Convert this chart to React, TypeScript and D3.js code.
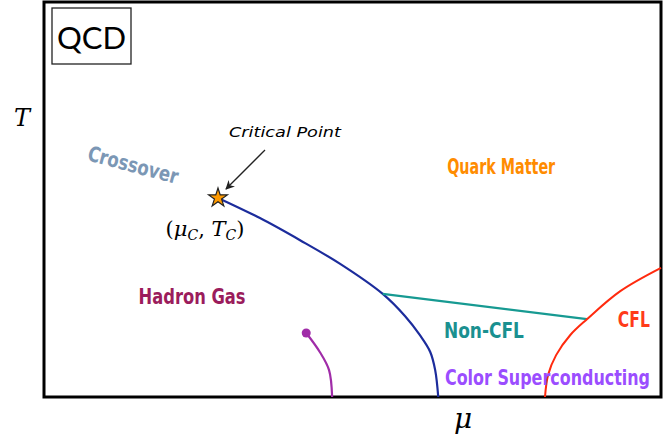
import React from "react";
import * as d3 from "d3";

const W = 672, H = 436;
const frame = { left: 44, right: 661, top: 2, bottom: 397 };

// data coordinates: mu (0..100), T (0..100)
const criticalPoint = { mu: 28.2, T: 50.4 };
const firstOrderMu = [28.2, 35.0, 41.5, 48.0, 54.9, 58.5, 60.9, 62.6, 63.4, 63.9];
const firstOrderT = [50.4, 45.3, 39.7, 33.7, 26.1, 20.5, 15.7, 11.4, 6.8, 0];
const nonCflMu = [54.9, 88.0];
const nonCflT = [26.1, 19.7];
const cflMu = [81.2, 81.7, 83.0, 85.3, 88.0, 93.4, 100];
const cflT = [0, 5.6, 10.6, 15.7, 19.7, 26.8, 32.7];
const nuclearMu = [42.5, 44.7, 46.2, 46.7];
const nuclearT = [16.2, 11.4, 6.8, 0];

const regionLabels = ["Crossover", "Quark Matter", "Hadron Gas", "Non-CFL", "Color Superconducting", "CFL"];
const regionMu = [14.4, 74.1, 24.0, 71.3, 81.6, 95.6];
const regionT = [58.4, 57.9, 25.1, 16.5, 4.6, 19.2];
const regionWidths = [93, 108, 107, 80, 205, 32];
const regionColors = ["#7b97b5", "#ff8c00", "#9b1c5c", "#1a9090", "#9b4dff", "#ff3b1a"];
const regionRot = [15, 0, 0, 0, 0, 0];

export default function App() {
  const x = d3.scaleLinear().domain([0, 100]).range([frame.left, frame.right]);
  const y = d3.scaleLinear().domain([0, 100]).range([frame.bottom, frame.top]);
  const line = d3
    .line<[number, number]>()
    .x((d) => x(d[0]))
    .y((d) => y(d[1]))
    .curve(d3.curveCatmullRom.alpha(0.5));
  const zip = (a: number[], b: number[]) => a.map((v, i) => [v, b[i]] as [number, number]);

  const cx = x(criticalPoint.mu), cy = y(criticalPoint.T);
  const star = d3.symbol().type(d3.symbolStar).size(110)();
  const font = "'DejaVu Sans Condensed', 'DejaVu Sans', sans-serif";

  return (
    <svg width={W} height={H} style={{ position: "absolute", left: 0, top: 0, background: "#fff" }}>
      <defs>
        <marker id="arr" viewBox="0 0 10 10" refX="9" refY="5" markerWidth="7" markerHeight="7" orient="auto">
          <path d="M0,0 L10,5 L0,10 L3,5 z" fill="#222" />
        </marker>
      </defs>
      <rect x={frame.left} y={frame.top} width={frame.right - frame.left} height={frame.bottom - frame.top}
        fill="none" stroke="#000" strokeWidth={3} />
      <rect x={52} y={8} width={79} height={56} fill="#fff" stroke="#222" strokeWidth={1.3} />
      <text x={91.5} y={49} textAnchor="middle" fontFamily="Lato, 'Open Sans', sans-serif" fontSize={31} fill="#000">QCD</text>

      <path d={line(zip(firstOrderMu, firstOrderT)) || ""} fill="none" stroke="#1c2c9c" strokeWidth={2.2} />
      <path d={line(zip(nonCflMu, nonCflT)) || ""} fill="none" stroke="#179a92" strokeWidth={2.2} />
      <path d={line(zip(cflMu, cflT)) || ""} fill="none" stroke="#ff2a0e" strokeWidth={2} />
      <path d={line(zip(nuclearMu, nuclearT)) || ""} fill="none" stroke="#a02ca8" strokeWidth={2.2} />
      <circle cx={x(nuclearMu[0])} cy={y(nuclearT[0])} r={4.5} fill="#a02ca8" />

      <path d={star || ""} transform={`translate(${cx},${cy})`} fill="#ff9a00" stroke="#222" strokeWidth={1.2} />
      <line x1={265} y1={150} x2={226} y2={189} stroke="#222" strokeWidth={1.3} markerEnd="url(#arr)" />
      <text x={285} y={137} textAnchor="middle" fontFamily="'DejaVu Sans', sans-serif" fontStyle="italic" fontSize={14}
        textLength={112} lengthAdjust="spacingAndGlyphs" fill="#000">Critical Point</text>
      <text x={205} y={236} textAnchor="middle" fontFamily="'DejaVu Serif', serif" fontSize={21} fill="#000">
        (<tspan fontStyle="italic">μ</tspan><tspan fontStyle="italic" fontSize={14} dy={4}>C</tspan><tspan dy={-4}>, </tspan><tspan fontStyle="italic">T</tspan><tspan fontStyle="italic" fontSize={14} dy={4}>C</tspan><tspan dy={-4}>)</tspan>
      </text>

      {regionLabels.map((t, i) => (
        <text key={t} x={x(regionMu[i])} y={y(regionT[i])} textAnchor="middle" dominantBaseline="middle"
          transform={`rotate(${regionRot[i]},${x(regionMu[i])},${y(regionT[i])})`}
          textLength={regionWidths[i]} lengthAdjust="spacingAndGlyphs"
          fontFamily={font} fontWeight="bold" fontSize={21} fill={regionColors[i]}>{t}</text>
      ))}

      <text x={22} y={126} textAnchor="middle" fontFamily="'DejaVu Serif', serif" fontStyle="italic" fontSize={24} fill="#000">T</text>
      <text x={463} y={428} textAnchor="middle" fontFamily="'DejaVu Serif', serif" fontStyle="italic" fontSize={28} fill="#000">μ</text>
    </svg>
  );
}
